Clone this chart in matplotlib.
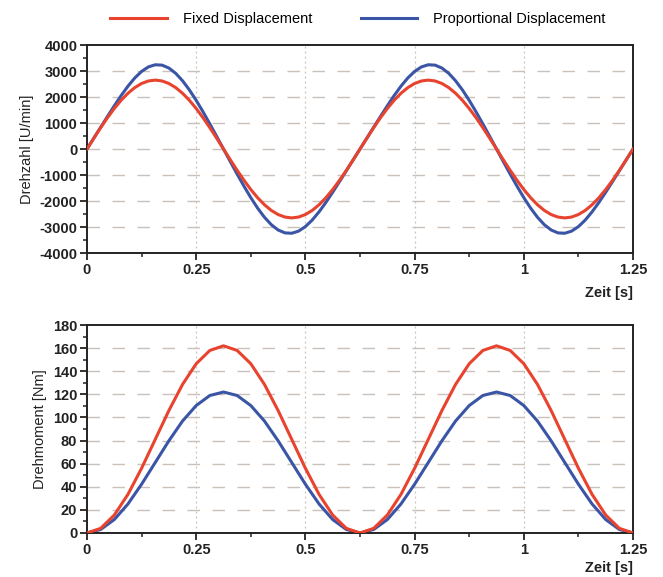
import matplotlib
matplotlib.use("Agg")
import matplotlib.pyplot as plt
from matplotlib.ticker import MultipleLocator, FixedLocator
import numpy as np

plt.rcParams['font.family'] = ['Liberation Sans', 'DejaVu Sans']
plt.rcParams['axes.unicode_minus'] = False

# time samples [s]
time_speed = [i * 0.015625 for i in range(81)]
time_torque = [i * 0.03125 for i in range(41)]

# Drehzahl [U/min]
_fix_half = [0, 415, 819, 1203, 1558, 1874, 2144, 2361, 2520, 2617, 2650,
             2617, 2520, 2361, 2144, 1874, 1558, 1203, 819, 415]
speed_fixed = (_fix_half + [-v for v in _fix_half]) * 2 + [0]
speed_prop_period = [0, 418, 836, 1252, 1661, 2054, 2416, 2732, 2984, 3158,
                     3240, 3226, 3114, 2910, 2625, 2274, 1871, 1430, 965, 486,
                     0, -486, -965, -1430, -1871, -2274, -2625, -2910, -3114, -3226,
                     -3240, -3158, -2984, -2732, -2416, -2054, -1661, -1252, -836, -418]
speed_prop = speed_prop_period * 2 + [0]

# Drehmoment [Nm]
_tf_half = [0, 4.0, 15.5, 33.4, 56.0, 81.0, 106.0, 128.6, 146.5, 158.0,
            162, 158.0, 146.5, 128.6, 106.0, 81.0, 56.0, 33.4, 15.5, 4.0]
_tp_half = [0, 3.0, 11.6, 25.1, 42.2, 61.0, 79.8, 96.9, 110.3, 119.0,
            122, 119.0, 110.3, 96.9, 79.8, 61.0, 42.2, 25.1, 11.6, 3.0]
torque_fixed = _tf_half * 2 + [0]
torque_prop = _tp_half * 2 + [0]

series_names = ["Fixed Displacement", "Proportional Displacement"]
x_ticks = [0, 0.25, 0.5, 0.75, 1, 1.25]
x_tick_labels = ["0", "0.25", "0.5", "0.75", "1", "1.25"]

RED = '#e8432e'
BLUE = '#3b55a6'
GRID = '#c9c1ba'

fig = plt.figure(figsize=(6.63, 5.77), dpi=100)
ax1 = fig.add_axes([0.1312, 0.5615, 0.8236, 0.3605])
ax2 = fig.add_axes([0.1312, 0.0763, 0.8236, 0.3604])

def style(ax, ylim, ymajor, yminor, ylabel, zeit_y):
    ax.set_xlim(0, 1.25)
    ax.set_ylim(*ylim)
    ax.xaxis.set_major_locator(FixedLocator(x_ticks))
    ax.set_xticklabels(x_tick_labels)
    ax.xaxis.set_minor_locator(MultipleLocator(0.125))
    ax.yaxis.set_major_locator(MultipleLocator(ymajor))
    ax.yaxis.set_minor_locator(MultipleLocator(yminor))
    ax.tick_params(which='major', direction='out', length=5, width=1.3, labelsize=10.5,
                   colors='#222222', pad=2)
    ax.tick_params(which='minor', direction='out', length=3, width=1.1, colors='#222222')
    for lab in ax.get_xticklabels() + ax.get_yticklabels():
        lab.set_fontweight('bold')
    for sp in ax.spines.values():
        sp.set_linewidth(1.4)
        sp.set_color('#222222')
    ax.grid(False)
    for y in np.arange(ylim[0] + ymajor, ylim[1], ymajor):
        ax.axhline(y, color=GRID, lw=1.0, ls=(0, (9, 9)), zorder=0)
    for x in x_ticks[1:-1]:
        ax.axvline(x, color=GRID, lw=0.9, ls=(0, (1.5, 2.5)), zorder=0)
    ax.set_ylabel(ylabel, fontsize=10.5, color='#222222', labelpad=4)
    ax.text(1.0, zeit_y, "Zeit [s]", transform=ax.transAxes, ha='right', va='top',
            fontsize=10.5, fontweight='bold', color='#222222')

ax1.plot(time_speed, speed_fixed, color=RED, lw=2.2, label=series_names[0], zorder=3)
ax1.plot(time_speed, speed_prop, color=BLUE, lw=2.2, label=series_names[1], zorder=2)
style(ax1, (-4000, 4000), 1000, 500, "Drehzahl [U/min]", -0.16)

ax2.plot(time_torque, torque_prop, color=BLUE, lw=2.2, zorder=2)
ax2.plot(time_torque, torque_fixed, color=RED, lw=2.2, zorder=3)
style(ax2, (0, 180), 20, 10, "Drehmoment [Nm]", -0.135)

fig.legend(handles=ax1.get_lines(), labels=series_names, loc='center',
           bbox_to_anchor=(0.54, 0.967), ncol=2, frameon=False, fontsize=10.5,
           handlelength=3.9, columnspacing=3.3, handletextpad=1.1)

fig.savefig("out.png", dpi=100, facecolor='white')
